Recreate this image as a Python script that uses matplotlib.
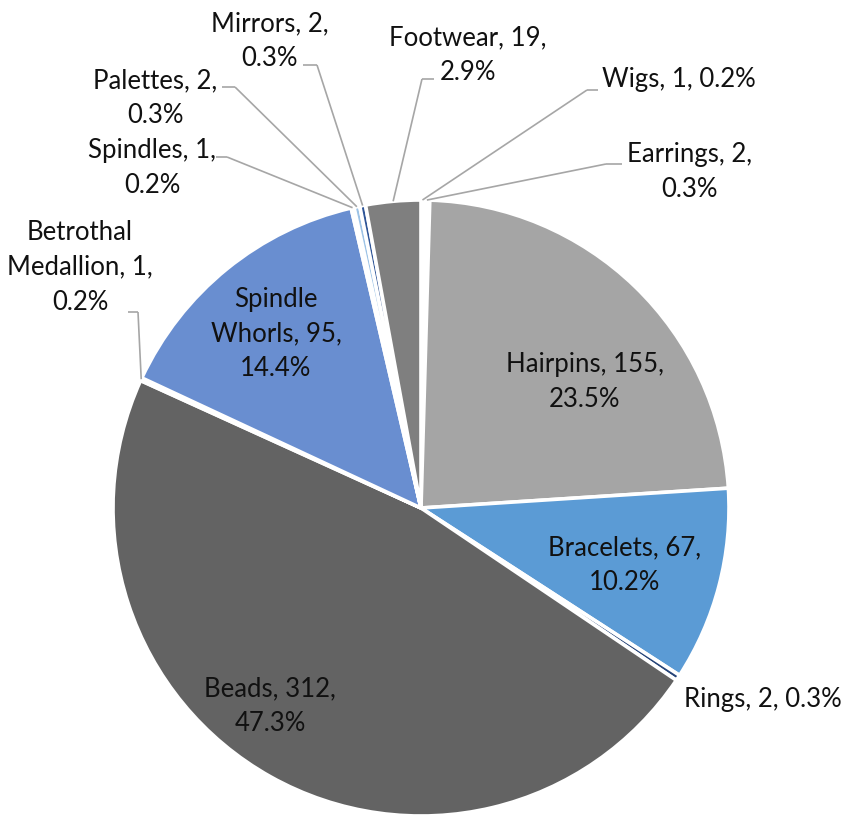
import matplotlib
matplotlib.use("Agg")
import matplotlib.pyplot as plt
import numpy as np

# Artefact counts, in clockwise order starting from 12 o'clock
categories = ["Wigs", "Earrings", "Hairpins", "Bracelets", "Rings", "Beads",
              "Betrothal Medallion", "Spindle Whorls", "Spindles", "Palettes",
              "Mirrors", "Footwear"]
counts = [1, 2, 155, 67, 2, 312, 1, 95, 1, 2, 2, 19]
colors = ["#4472C4", "#FFFFFF", "#A5A5A5", "#5B9BD5", "#264478", "#636363",
          "#FFFFFF", "#698ED0", "#DEEBF7", "#9DC3E6", "#2F5597", "#7F7F7F"]

W, H = 848, 816
fig = plt.figure(figsize=(W / 100, H / 100), dpi=100)
ax = fig.add_axes([0, 0, 1, 1])

cx, cy, R = 421, H - 508, 308
wedges, _ = ax.pie(counts, colors=colors, startangle=90, counterclock=False,
                   center=(cx, cy), radius=R,
                   wedgeprops=dict(edgecolor="white", linewidth=2.6))
ax.set_xlim(0, W)
ax.set_ylim(0, H)
ax.set_aspect("equal")
ax.axis("off")

total = sum(counts)


def label_text(name, n):
    pct = f"{n / total * 100:.1f}%"
    return name, f"{n}", pct


# how each label's text is broken into lines
def fmt(name, n, layout):
    nm, c, pct = label_text(name, n)
    if layout == "one":
        return f"{nm}, {c}, {pct}"
    if layout == "split":
        first, second = nm.split(" ", 1)
        return f"{first}\n{second}, {c},\n{pct}"
    return f"{nm}, {c},\n{pct}"


# label placement: (text centre x, y from top, line layout, stub x-range, stub y, attach side)
layout = {
    "Wigs": ((679, 80), "one", (587, 598), 90, 0),
    "Earrings": ((690, 172), "two", (606, 622), 164, 0),
    "Hairpins": ((585, 382), "two", None, None, None),
    "Bracelets": ((625, 565), "two", None, None, None),
    "Rings": ((763, 700), "one", None, None, None),
    "Beads": ((270, 706), "two", None, None, None),
    "Betrothal Medallion": ((80, 267), "split", (128, 138), 312, 1),
    "Spindle Whorls": ((276, 334), "split", None, None, None),
    "Spindles": ((152, 168), "two", (216, 227), 157, 1),
    "Palettes": ((155, 98), "two", (222, 235), 87, 1),
    "Mirrors": ((270, 41), "two", (303, 317), 65, 1),
    "Footwear": ((468, 55), "two", (422, 434), 79, 0),
}

font = dict(family=["Lato", "DejaVu Sans"], size=18.5, color="#111111")
lead_col = "#A6A6A6"

cum = np.cumsum([0] + counts)
for i, name in enumerate(categories):
    (tx, ty), lay, stub, sy, side = layout[name]
    ax.text(tx, H - ty, fmt(name, counts[i], lay), ha="center", va="center",
            multialignment="center", linespacing=1.5, **font)
    if stub is None:
        continue
    mid = np.deg2rad((cum[i] + counts[i] / 2) / total * 360)
    px = cx + R * np.sin(mid)
    py = cy + R * np.cos(mid)
    ax.plot([stub[0], stub[1]], [H - sy, H - sy], color=lead_col, lw=1.2,
            solid_capstyle="butt")
    ax.plot([stub[side], px], [H - sy, py], color=lead_col, lw=1.2,
            solid_capstyle="butt")

fig.savefig("out.png", dpi=100, facecolor="white")
